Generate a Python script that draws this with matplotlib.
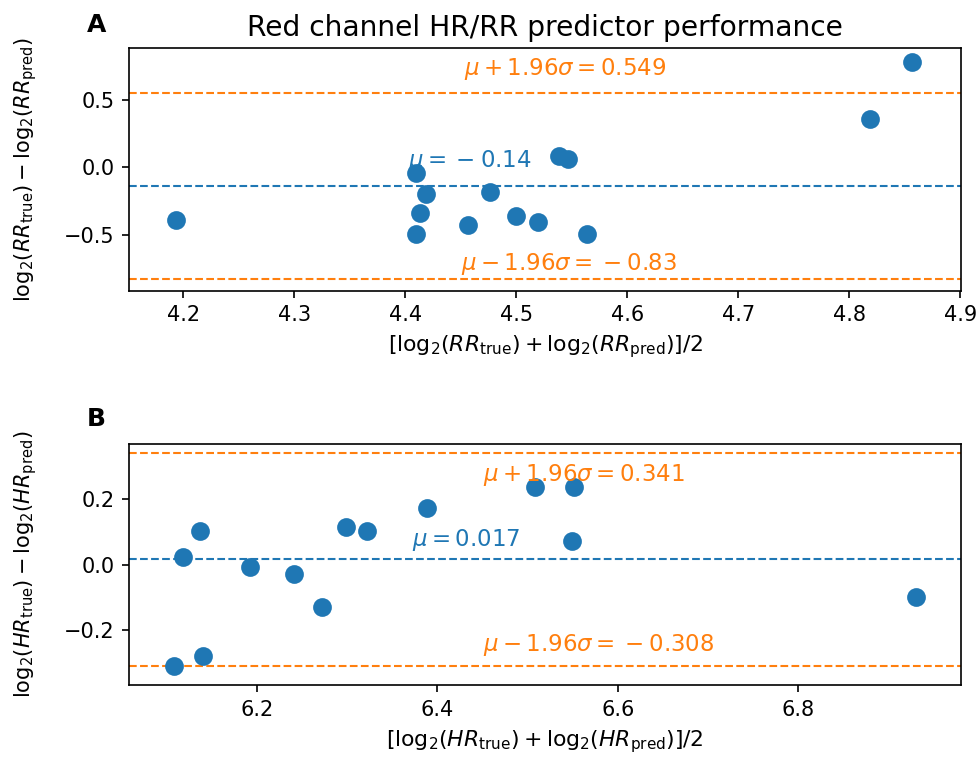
import matplotlib
matplotlib.use("Agg")
import matplotlib.pyplot as plt

# ---- Panel A: RR ----
rr_mean = [4.1934, 4.4095, 4.4188, 4.4129, 4.4095, 4.4565, 4.4768, 4.5002,
           4.5193, 4.5382, 4.5471, 4.5636, 4.819, 4.857]
rr_diff = [-0.391, -0.045, -0.199, -0.342, -0.497, -0.428, -0.181, -0.359,
           -0.408, 0.083, 0.063, -0.497, 0.359, 0.777]
rr_mu, rr_hi, rr_lo = -0.14, 0.549, -0.83

# ---- Panel B: HR ----
hr_mean = [6.1084, 6.1187, 6.1372, 6.1402, 6.1922, 6.241, 6.2723, 6.2989,
           6.3219, 6.3883, 6.5083, 6.5518, 6.5496, 6.9304]
hr_diff = [-0.309, 0.023, 0.104, -0.278, -0.0064, -0.027, -0.128, 0.117,
           0.103, 0.175, 0.239, 0.239, 0.074, -0.099]
hr_mu, hr_hi, hr_lo = 0.017, 0.341, -0.308

rr_xticks = [4.2, 4.3, 4.4, 4.5, 4.6, 4.7, 4.8, 4.9]
rr_yticks = [-0.5, 0.0, 0.5]
hr_xticks = [6.2, 6.4, 6.6, 6.8]
hr_yticks = [-0.2, 0.0, 0.2]

W, H, DPI = 977, 767, 150
fig = plt.figure(figsize=(W / DPI, H / DPI), dpi=DPI)

def px_axes(l, t, r, b):
    return fig.add_axes([l / W, 1 - b / H, (r - l) / W, (b - t) / H])

axA = px_axes(129.3, 48.3, 960.7, 290.7)
axB = px_axes(129.3, 444.0, 960.7, 685.0)

C0, C1 = "#1f77b4", "#ff7f0e"
fs_ann = 11


def fmt(v, nd):
    s = f"{abs(v):.{nd}f}"
    return (r"\:-\:" + s) if v < 0 else s


# Panel A
axA.scatter(rr_mean, rr_diff, s=64, color=C0, zorder=3)
axA.axhline(rr_mu, color=C0, ls="--", lw=1)
axA.axhline(rr_hi, color=C1, ls="--", lw=1)
axA.axhline(rr_lo, color=C1, ls="--", lw=1)
axA.text(4.4527, 0.680, r"$\mu+1.96\sigma=%s$" % fmt(rr_hi, 3), color=C1,
         fontsize=fs_ann, va="baseline", ha="left")
axA.text(4.4023, 0.0015, r"$\mu=%s$" % fmt(rr_mu, 2), color=C0,
         fontsize=fs_ann, va="baseline", ha="left")
axA.text(4.4507, -0.763, r"$\mu-1.96\sigma=%s$" % fmt(rr_lo, 2), color=C1,
         fontsize=fs_ann, va="baseline", ha="left")
axA.set_xlim(4.1514, 4.9005)
axA.set_ylim(-0.9135, 0.8805)
axA.set_xticks(rr_xticks)
axA.set_yticks(rr_yticks)
axA.set_xlabel(r"$[\mathrm{log}_2(RR_{\rm true})+\mathrm{log}_2(RR_{\rm pred})]/2$", fontsize=10.5)
axA.set_ylabel(r"$\mathrm{log}_2(RR_{\rm true})-\mathrm{log}_2(RR_{\rm pred})$", fontsize=10,
               labelpad=12)
axA.set_title("Red channel HR/RR predictor performance", fontsize=13.5)

# Panel B
axB.scatter(hr_mean, hr_diff, s=64, color=C0, zorder=3)
axB.axhline(hr_mu, color=C0, ls="--", lw=1)
axB.axhline(hr_hi, color=C1, ls="--", lw=1)
axB.axhline(hr_lo, color=C1, ls="--", lw=1)
axB.text(6.451, 0.257, r"$\mu+1.96\sigma=%s$" % fmt(hr_hi, 3), color=C1,
         fontsize=fs_ann, va="baseline", ha="left")
axB.text(6.372, 0.057, r"$\mu=%s$" % fmt(hr_mu, 3), color=C0,
         fontsize=fs_ann, va="baseline", ha="left")
axB.text(6.451, -0.263, r"$\mu-1.96\sigma=%s$" % fmt(hr_lo, 3), color=C1,
         fontsize=fs_ann, va="baseline", ha="left")
axB.set_xlim(6.0589, 6.9799)
axB.set_ylim(-0.367, 0.369)
axB.set_xticks(hr_xticks)
axB.set_yticks(hr_yticks)
axB.set_xlabel(r"$[\mathrm{log}_2(HR_{\rm true})+\mathrm{log}_2(HR_{\rm pred})]/2$", fontsize=10.5)
axB.set_ylabel(r"$\mathrm{log}_2(HR_{\rm true})-\mathrm{log}_2(HR_{\rm pred})$", fontsize=10,
               labelpad=12)

for ax in (axA, axB):
    ax.tick_params(labelsize=10)

fig.text(87 / W, 1 - 32.3 / H, "A", fontsize=12, fontweight="bold", va="baseline")
fig.text(87 / W, 1 - 426 / H, "B", fontsize=12, fontweight="bold", va="baseline")

fig.savefig("out.png", dpi=DPI)
